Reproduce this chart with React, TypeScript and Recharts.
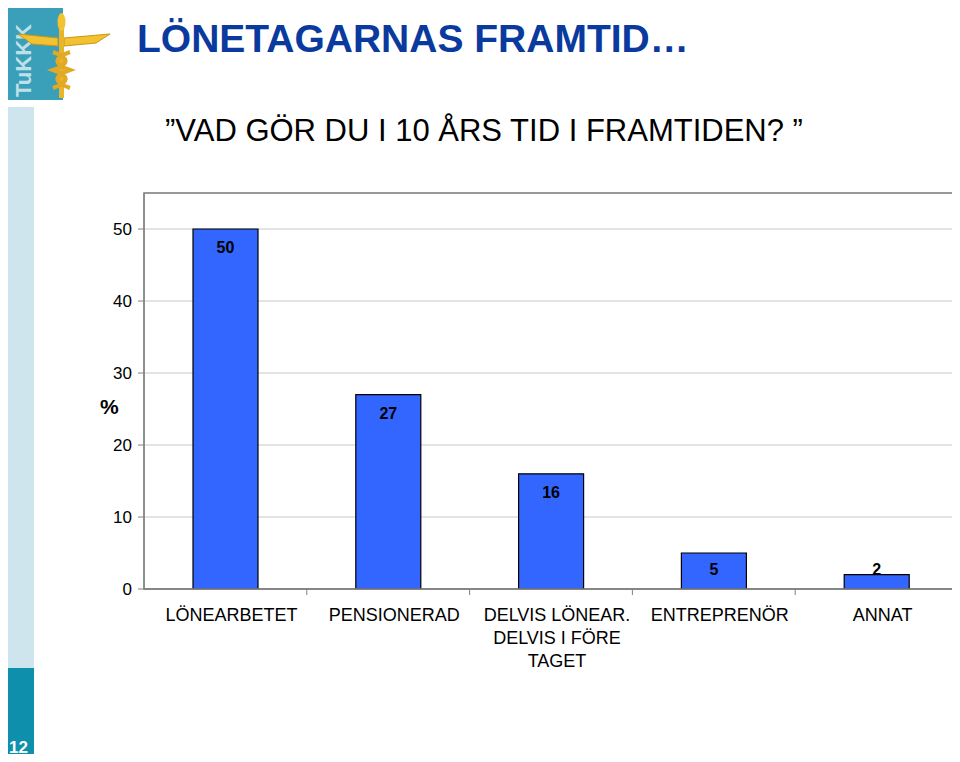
import React from "react";
import { BarChart, Bar, XAxis, YAxis, CartesianGrid, ReferenceArea, LabelList } from "recharts";

const categories = ["LÖNEARBETET", "PENSIONERAD", "DELVIS LÖNEAR.\nDELVIS I FÖRE\nTAGET", "ENTREPRENÖR", "ANNAT"];
const shares = [50, 27, 16, 5, 2];
const yTicks = [0, 10, 20, 30, 40, 50];

const data = categories.map((name, i) => ({ name, value: shares[i] }));

const PLOT_LEFT = 144;
const PLOT_RIGHT = 958;
const BAND = (PLOT_RIGHT - PLOT_LEFT) / categories.length;
const ZERO_Y = 589;

const CategoryTick = (props: any) => {
  const { x, y, payload, index } = props;
  const lines = String(payload.value).split("\n");
  return (
    <g>
      {index > 0 && <line x1={x - BAND / 2} x2={x - BAND / 2} y1={y - 8} y2={y - 2} stroke="#808080" />}
      <text x={x + 6} y={y + 24} textAnchor="middle" fontSize={18} fontFamily="Liberation Sans, Arial, sans-serif" fill="#000">
        {lines.map((l, i) => (
          <tspan key={i} x={x + 6} dy={i === 0 ? 0 : 23}>{l}</tspan>
        ))}
      </text>
    </g>
  );
};

const ValueLabel = (props: any) => {
  const { x, y, width, value } = props;
  const cy = Math.min(y + 18, ZERO_Y - 20);
  return (
    <text x={x + width / 2} y={cy} dy={6} textAnchor="middle" fontSize={16} fontWeight="bold"
      fontFamily="Liberation Sans Narrow, Liberation Sans, Arial, sans-serif" fill="#000">
      {value}
    </text>
  );
};

const Logo = () => (
  <svg width={112} height={102} style={{ position: "absolute", left: 0, top: 0 }}>
    <rect x={4} y={4} width={59} height={96} fill="#3a9fb8" />
    <text transform="translate(31,97) rotate(-90)" fontSize={22} fontWeight="bold" fill="#d7ecf2"
      fontFamily="Liberation Sans, Arial, sans-serif" opacity={0.85}>TuKKK</text>
    <polygon points="18,34 58,38 58,46 32,44" fill="#f2c230" stroke="#c9961a" strokeWidth={1} />
    <polygon points="110,34 64,38 64,46 96,43" fill="#f2c230" stroke="#c9961a" strokeWidth={1} />
    <rect x={59} y={24} width={5} height={74} fill="#e8b52a" />
    <ellipse cx={61.5} cy={22} rx={4} ry={9} fill="#f2c230" />
    <path d="M53,52 C70,58 70,64 53,70 C70,76 70,82 53,88 M70,52 C53,58 53,64 70,70 C53,76 53,82 70,88"
      stroke="#e3a925" strokeWidth={4} fill="none" />
  </svg>
);

export default function App() {
  return (
    <div style={{ position: "relative", width: 960, height: 762, margin: -8, background: "#fff", overflow: "hidden" }}>
      <Logo />
      <div style={{ position: "absolute", left: 5, top: 107, width: 29, height: 561, background: "#cfe5ee" }} />
      <div style={{ position: "absolute", left: 5, top: 668, width: 29, height: 94, background: "#0e8fab" }}>
        <div style={{ position: "absolute", left: 4, top: 70, color: "#fff", fontWeight: "bold", fontSize: 17, fontFamily: "Liberation Sans, Arial, sans-serif" }}>12</div>
      </div>
      <div style={{ position: "absolute", left: 137, top: 17, fontSize: 39, fontWeight: "bold", color: "#0a3a9e", fontFamily: "Liberation Sans, Arial, sans-serif", whiteSpace: "nowrap" }}>
        LÖNETAGARNAS FRAMTID…
      </div>
      <div style={{ position: "absolute", left: 165, top: 113, fontSize: 31, color: "#000", fontFamily: "Liberation Sans, Arial, sans-serif", whiteSpace: "nowrap" }}>
        ”VAD GÖR DU I 10 ÅRS TID I FRAMTIDEN? ”
      </div>
      <div style={{ position: "absolute", left: 100, top: 395, fontSize: 21, fontWeight: "bold", fontFamily: "Liberation Sans, Arial, sans-serif" }}>%</div>
      <div style={{ position: "absolute", left: 0, top: 0 }}>
        <BarChart width={960} height={762} data={data} margin={{ top: 193, right: 2, left: 0, bottom: 83 }}>
          <CartesianGrid horizontal vertical={false} stroke="#c8c8c8" />
          <ReferenceArea y1={0} y2={55} fill="none" stroke="#808080" strokeWidth={1.5} ifOverflow="visible" />
          <XAxis dataKey="name" height={90} interval={0} tick={<CategoryTick />} tickLine={false}
            axisLine={{ stroke: "#808080", strokeWidth: 1.5 }} />
          <YAxis width={144} domain={[0, 55]} ticks={yTicks} allowDataOverflow
            tick={{ fontSize: 17, fill: "#000", fontFamily: "Liberation Sans, Arial, sans-serif" }}
            tickLine={{ stroke: "#808080" }} tickSize={6} tickMargin={6} axisLine={{ stroke: "#808080" }} />
          <Bar dataKey="value" barSize={65} fill="#3366ff" stroke="#000" strokeWidth={1.2} isAnimationActive={false}>
            <LabelList dataKey="value" content={<ValueLabel />} />
          </Bar>
        </BarChart>
      </div>
    </div>
  );
}
